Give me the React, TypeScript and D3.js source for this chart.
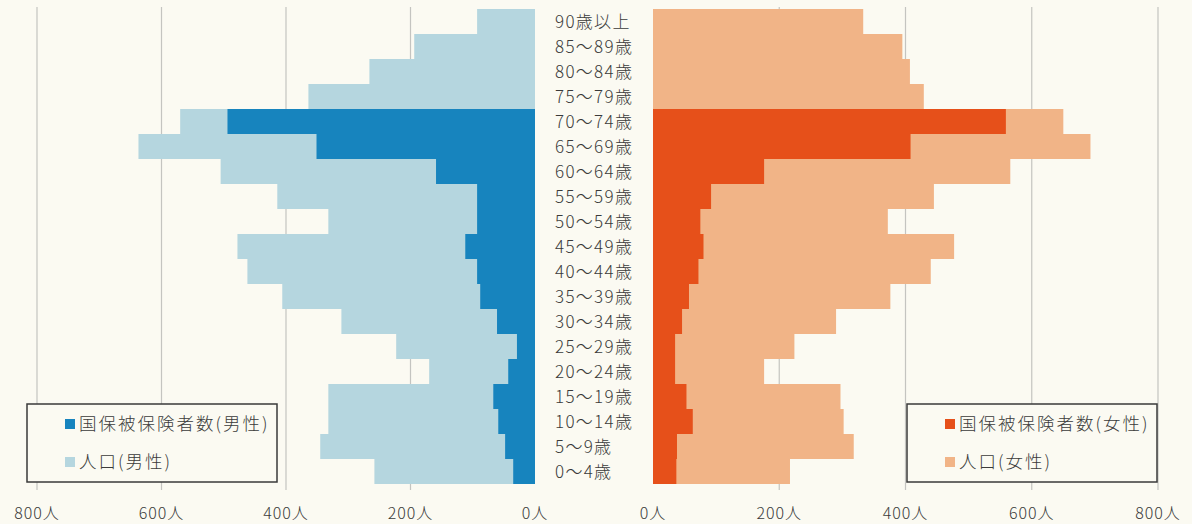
import React, { useEffect, useRef } from 'react';
import * as d3 from 'd3';

// age groups, top to bottom
const ages = ['90歳以上', '85～89歳', '80～84歳', '75～79歳', '70～74歳', '65～69歳', '60～64歳', '55～59歳', '50～54歳', '45～49歳', '40～44歳', '35～39歳', '30～34歳', '25～29歳', '20～24歳', '15～19歳', '10～14歳', '5～9歳', '0～4歳'];

const malePop = [93, 194, 266, 364, 570, 637, 505, 414, 332, 478, 462, 406, 311, 223, 170, 332, 332, 345, 258];
const maleKokuho = [0, 0, 0, 0, 494, 351, 159, 93, 93, 112, 93, 88, 61, 29, 43, 67, 59, 48, 35];
const femalePop = [333, 395, 407, 429, 650, 693, 566, 445, 372, 477, 440, 376, 290, 224, 176, 297, 302, 318, 217];
const femaleKokuho = [0, 0, 0, 0, 559, 408, 176, 92, 75, 80, 72, 57, 46, 35, 35, 53, 63, 38, 37];

const ticks = [0, 200, 400, 600, 800];

const C = {
  bg: '#fbfaf2',
  maleDark: '#1784be',
  maleLight: '#b5d6df',
  femaleDark: '#e6501a',
  femaleLight: '#f1b487',
  grid: '#c4c4c0',
  text: '#3a3a3a',
};

const W = 1192;
const H = 524;

export default function App() {
  const ref = useRef<SVGSVGElement>(null);

  useEffect(() => {
    const svg = d3.select(ref.current);
    svg.selectAll('*').remove();
    const font = '"Noto Sans CJK JP", "Noto Sans", sans-serif';

    svg.append('rect').attr('width', W).attr('height', H).attr('fill', C.bg);

    const y = d3.scaleBand<string>().domain(ages).range([9, 484]).padding(0);
    const xl = d3.scaleLinear().domain([0, 800]).range([535, 37]);
    const xr = d3.scaleLinear().domain([0, 800]).range([653, 1158]);

    // grid
    const grid = svg.append('g');
    ticks.filter(t => t > 0).forEach(t => {
      grid.append('line').attr('x1', xl(t)).attr('x2', xl(t)).attr('y1', 7).attr('y2', 490)
        .attr('stroke', C.grid).attr('stroke-width', 1.2);
      grid.append('line').attr('x1', xr(t)).attr('x2', xr(t)).attr('y1', 7).attr('y2', 490)
        .attr('stroke', C.grid).attr('stroke-width', 1.2);
    });

    const bars = (vals: number[], side: 'l' | 'r', color: string) => {
      svg.append('g').selectAll('rect').data(vals).enter().append('rect')
        .attr('x', (d) => side === 'l' ? xl(d) : xr(0))
        .attr('width', (d) => side === 'l' ? xl(0) - xl(d) : xr(d) - xr(0))
        .attr('y', (_d, i) => y(ages[i]) as number)
        .attr('height', y.bandwidth())
        .attr('fill', color);
    };
    bars(malePop, 'l', C.maleLight);
    bars(maleKokuho, 'l', C.maleDark);
    bars(femalePop, 'r', C.femaleLight);
    bars(femaleKokuho, 'r', C.femaleDark);

    // age labels
    svg.append('g').selectAll('text').data(ages).enter().append('text')
      .attr('x', 555)
      .attr('y', (d) => (y(d) as number) + y.bandwidth() / 2)
      .attr('dy', '0.36em')
      .attr('font-family', font)
      .attr('font-size', 17)
      .attr('font-weight', 300)
      .attr('letter-spacing', 1.3)
      .attr('fill', C.text)
      .text((d) => d);

    // axis labels
    const ax = svg.append('g').attr('font-family', font).attr('font-size', 16).attr('fill', C.text)
      .attr('font-weight', 300).attr('letter-spacing', 1).attr('text-anchor', 'middle');
    ticks.forEach(t => {
      ax.append('text').attr('x', xl(t)).attr('y', 519).text(`${t}人`);
      ax.append('text').attr('x', xr(t)).attr('y', 519).text(`${t}人`);
    });

    // legends
    const legend = (x0: number, items: { label: string; color: string }[]) => {
      const g = svg.append('g');
      g.append('rect').attr('x', x0).attr('y', 404).attr('width', 250).attr('height', 78)
        .attr('fill', C.bg).attr('stroke', '#3a3a3a').attr('stroke-width', 1.5);
      items.forEach((it, i) => {
        const cy = 424 + i * 38;
        g.append('rect').attr('x', x0 + 38).attr('y', cy - 5).attr('width', 10).attr('height', 10)
          .attr('fill', it.color);
        g.append('text').attr('x', x0 + 52).attr('y', cy).attr('dy', '0.36em')
          .attr('font-family', font).attr('font-size', 17.5).attr('font-weight', 300)
          .attr('letter-spacing', 2).attr('fill', C.text).text(it.label);
      });
    };
    legend(27, [
      { label: '国保被保険者数(男性)', color: C.maleDark },
      { label: '人口(男性)', color: C.maleLight },
    ]);
    legend(907, [
      { label: '国保被保険者数(女性)', color: C.femaleDark },
      { label: '人口(女性)', color: C.femaleLight },
    ]);
  }, []);

  return (
    <svg ref={ref} width={W} height={H} style={{ position: 'absolute', left: 0, top: 0, display: 'block' }} />
  );
}
